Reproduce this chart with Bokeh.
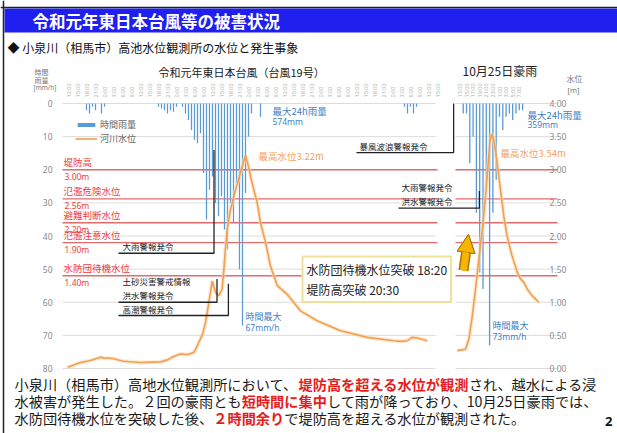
from bokeh.plotting import figure
from bokeh.models import (Range1d, LinearAxis, FixedTicker, Label, Legend, LegendItem,
                          Arrow, NormalHead, PrintfTickFormatter, BoxAnnotation, Span)
from bokeh.embed import file_html
from bokeh.resources import INLINE

JP = "Noto Sans CJK JP"

# ---------------- data ----------------
# chart 1: 令和元年東日本台風 (hours from start of chart)
rain1_hour = [8, 9, 10, 11, 13, 14,
              32, 33, 34, 35, 36, 37, 38,
              40, 41, 42, 43, 44, 45, 46, 47, 48, 49, 50, 51,
              52, 53, 54, 55, 56, 57, 58, 59, 60, 61, 62, 63,
              66, 114, 115, 116, 117, 118]
rain1_mm = [2, 3, 1, 2, 3, 1,
            1, 1.5, 2, 3, 2, 2.5, 1,
            1, 3, 5, 8, 11, 12, 9, 21, 35, 26, 22, 30,
            34, 28, 38, 44, 30, 36, 24, 50, 67, 27, 10, 3,
            4, 1, 3, 1, 3, 1]
level1_hour = [1.7, 6.0, 9.3, 12.7, 13.7, 16.7, 20.3, 26.0, 32.7, 35.0, 37.0, 39.3,
               41.7, 43.7, 44.5, 45.5, 46.7, 47.7, 48.8, 49.9, 51.0, 52.1, 53.2, 53.8,
               54.3, 54.9, 56.0, 57.7, 59.3, 61.0, 62.1, 63.2, 64.9, 66.0, 67.7, 69.3,
               71.6, 74.9, 79.3, 84.9, 92.7, 101.6, 110.4, 112.7, 114.9, 116.6, 118.2, 121.6]
level1_m = [0.02, 0.09, 0.12, 0.17, 0.16, 0.15, 0.11, 0.09, 0.10, 0.13, 0.18, 0.22,
            0.21, 0.24, 0.30, 0.40, 0.52, 0.70, 1.00, 1.32, 1.15, 1.10, 1.20, 1.50,
            1.80, 2.10, 2.40, 2.70, 2.95, 3.22, 3.03, 2.80, 2.50, 2.20, 1.90, 1.55,
            1.25, 1.12, 0.87, 0.72, 0.57, 0.47, 0.42, 0.41, 0.42, 0.47, 0.46, 0.42]

# chart 2: 10月25日豪雨 (hours from start of rain)
rain2_hour = list(range(19))
rain2_mm = [3, 3, 18, 10, 33, 51, 56, 25, 73, 33, 23, 4, 8, 4, 3, 5, 3, 2, 2]
level2_hour = [-1.8, 0.7, 1.7, 2.7, 3.7, 4.7, 5.8, 6.6, 7.4, 8.1, 8.6, 9.3, 10.3,
               11.3, 12.3, 13.3, 14.8, 16.4, 17.4, 18.4, 19.4, 20.9, 22.9]
level2_m = [0.27, 0.29, 0.44, 0.77, 1.18, 1.63, 2.10, 2.50, 2.98, 3.43, 3.54, 3.45, 3.10,
            2.70, 2.30, 2.00, 1.70, 1.45, 1.35, 1.30, 1.20, 1.10, 1.00]

thresh_name = ["堤防高", "氾濫危険水位", "避難判断水位", "氾濫注意水位", "水防団待機水位"]
thresh_m = [3.00, 2.56, 2.20, 1.90, 1.40]
thresh_lbl = ["3.00m", "2.56m", "2.20m", "1.90m", "1.40m"]

rain_ticks = [0, 10, 20, 30, 40, 50, 60, 70, 80]
level_ticks = [0.0, 0.5, 1.0, 1.5, 2.0, 2.5, 3.0, 3.5, 4.0]
RAIN_PER_M = 20.0          # 80 mm/h on the left axis spans the 4 m of the right axis

time1_ticks = list(range(2, 126, 3))      # chart-1 hours
time1_clock0 = 10
time2_ticks = list(range(-1, 19, 2))      # chart-2 hours
time2_clock0 = 14

# events (chart 1, hours): name, time, underline level, top of marker
ev1_name = ["大雨警報発令", "土砂災害警戒情報\n洪水警報発令", "高潮警報発令"]
ev1_hour = [50.5, 51.5, 55.3]
ev1_level = [1.74, 1.00, 0.80]
ev1_top = [3.30, 1.35, 1.28]
# events (chart 2, hours)
ev2_name = ["暴風波浪警報発令", "大雨警報発令\n洪水警報発令"]
ev2_hour = [-2.9, 4.9]
ev2_level = [3.26, 2.42]
ev2_top = [4.0, 2.68]

# ---------------- layout helpers (page px -> data) ----------------
W, H = 617, 433
PX0, PX1, PY0, PY1 = 55.0, 546.0, 103.0, 368.0   # plot area in page px
X1_ORG, X1_STEP = 62.0, 3.0
X2_ORG, X2_STEP = 462.7, 3.3
M_PER_PX = 4.0 / (PY1 - PY0)
MM_PER_PX = 80.0 / (PY1 - PY0)


def hx(px):
    return (px - X1_ORG) / X1_STEP


def ux(px):
    return (px - X2_ORG) / X2_STEP


def my(py):
    return (PY1 - py) * M_PER_PX


def rn(py):
    return (py - PY0) * MM_PER_PX


BLUE = "#5b9bd5"
ORANGE = "#f0a050"
RED_LINE = "#e46b6b"
RED_TXT = "#f03c3c"
GRID = "#dcdcdc"
ANN_BLUE = "#3f7fc4"

p = figure(width=W, height=H, output_backend="svg", toolbar_location=None,
           x_range=Range1d(hx(0), hx(W)), y_range=Range1d(my(H), my(0)),
           x_axis_location=None, y_axis_location=None,
           min_border_left=0, min_border_right=0, min_border_top=0, min_border_bottom=0)
p.extra_x_ranges = {"x2": Range1d(ux(0), ux(W))}
p.extra_y_ranges = {"rain": Range1d(rn(H), rn(0))}
p.grid.visible = False
p.outline_line_color = None
p.background_fill_color = "white"
p.border_fill_color = "white"


def style_axis(ax, size="8.5px"):
    ax.axis_line_color = None
    ax.major_tick_line_color = None
    ax.minor_tick_line_color = None
    ax.major_tick_out = 0
    ax.major_tick_in = 0
    ax.minor_tick_out = 0
    ax.minor_tick_in = 0
    ax.major_label_text_font_size = size
    ax.major_label_text_color = "#8a8a8a"
    ax.major_label_text_font = "Noto Sans"
    ax.major_label_standoff = 3


# left axis: rainfall (0 at top, 80 at bottom) placed on the level scale
rain_pos = [4.0 - r / RAIN_PER_M for r in rain_ticks]
lax = LinearAxis(ticker=FixedTicker(ticks=rain_pos),
                 major_label_overrides={pos: str(r) for pos, r in zip(rain_pos, rain_ticks)},
                 fixed_location=hx(PX0))
style_axis(lax)
p.add_layout(lax, "left")
rax = LinearAxis(ticker=FixedTicker(ticks=level_ticks),
                 formatter=PrintfTickFormatter(format="%.2f"), fixed_location=hx(PX1))
style_axis(rax)
p.add_layout(rax, "right")

tick_pos, tick_lbl = [], {}
for t in time1_ticks:
    pos = round(float(t), 2)
    tick_pos.append(pos)
    tick_lbl[pos] = f"{(time1_clock0 + t) % 24}:00"
for t in time2_ticks:
    pos = round(hx(X2_ORG + X2_STEP * t), 2)
    tick_pos.append(pos)
    tick_lbl[pos] = f"{(time2_clock0 + t) % 24}:00"
tax = LinearAxis(ticker=FixedTicker(ticks=tick_pos), major_label_overrides=tick_lbl,
                 fixed_location=my(PY0))
style_axis(tax, "5.5px")
tax.major_label_text_color = "#b0b0b0"
tax.major_label_orientation = "vertical"
tax.major_label_standoff = 6
p.add_layout(tax, "above")

# slide border
p.add_layout(Span(location=hx(3), dimension="height", line_color="#222222", line_width=1.5))
p.add_layout(Span(location=my(7), dimension="width", line_color="#222222", line_width=1.5))

# grid lines and threshold lines
p.segment(x0=[hx(62)] * len(level_ticks), x1=[hx(435)] * len(level_ticks),
          y0=level_ticks, y1=level_ticks, line_color=GRID, line_width=1)
p.segment(x0=[ux(455)] * len(level_ticks), x1=[ux(557)] * len(level_ticks),
          y0=level_ticks, y1=level_ticks, line_color=GRID, line_width=1, x_range_name="x2")
p.segment(x0=[hx(62)] * len(thresh_m), x1=[hx(437)] * len(thresh_m),
          y0=thresh_m, y1=thresh_m, line_color=RED_LINE, line_width=1.3)
p.segment(x0=[ux(455)] * len(thresh_m), x1=[ux(557)] * len(thresh_m),
          y0=thresh_m, y1=thresh_m, line_color=RED_LINE, line_width=1.3, x_range_name="x2")

# rainfall bars
bars1 = p.vbar(x=rain1_hour, top=0, bottom=rain1_mm, width=0.42, y_range_name="rain",
               fill_color=BLUE, line_color=None)
p.vbar(x=rain2_hour, top=0, bottom=rain2_mm, width=0.4, y_range_name="rain",
       x_range_name="x2", fill_color=BLUE, line_color=None)

# water level
p.line(level1_hour, level1_m, line_width=4, line_color="#fbd9b5", line_alpha=0.6)
lvl1 = p.line(level1_hour, level1_m, line_width=1.6, line_color=ORANGE)
p.line(level2_hour, level2_m, line_width=4, line_color="#fbd9b5", line_alpha=0.6, x_range_name="x2")
p.line(level2_hour, level2_m, line_width=1.6, line_color=ORANGE, x_range_name="x2")

# event markers
xs, ys = [], []
for t, lv, tp in zip(ev1_hour, ev1_level, ev1_top):
    xs.append([hx(118), t, t]); ys.append([lv, lv, tp])
p.multi_line(xs, ys, line_color="#222222", line_width=1.3)
xs2, ys2 = [], []
starts2 = [ux(356), ux(398)]
for s, t, lv, tp in zip(starts2, ev2_hour, ev2_level, ev2_top):
    xs2.append([s, t, t]); ys2.append([lv, lv, tp])
p.multi_line(xs2, ys2, line_color="#222222", line_width=1.3, x_range_name="x2")

for name, lv in zip(ev1_name, ev1_level):
    p.add_layout(Label(x=hx(122), y=lv, text=name, text_baseline="bottom", y_offset=1,
                       text_font=JP, text_font_size="8.5px", text_color="#222222"))
for name, lv, s in zip(ev2_name, ev2_level, [ux(359), ux(401)]):
    p.add_layout(Label(x=s, y=lv, text=name, text_baseline="bottom", y_offset=1,
                       x_range_name="x2", text_font=JP, text_font_size="8.5px",
                       text_color="#222222"))

# legend (location is relative to the plot frame = whole canvas)
legend = Legend(items=[LegendItem(label="時間雨量", renderers=[bars1]),
                       LegendItem(label="河川水位", renderers=[lvl1])],
                location=(75, H - 145), orientation="vertical",
                label_text_font=JP, label_text_font_size="9px", label_text_color="#666666",
                label_height=8, glyph_height=5, glyph_width=22, label_standoff=3,
                spacing=1, padding=0, margin=0, background_fill_alpha=0,
                border_line_color=None)
p.add_layout(legend)

# threshold labels
for name, m, lbl in zip(thresh_name, thresh_m, thresh_lbl):
    p.add_layout(Label(x=hx(63), y=m, text=name, text_baseline="bottom", y_offset=1,
                       text_font=JP, text_font_size="9.5px", text_color=RED_TXT))
    p.add_layout(Label(x=hx(64), y=m, text=lbl, text_baseline="top", y_offset=-1,
                       text_font="Noto Sans", text_font_size="8.5px", text_color=RED_TXT))


def lab(px, py, text, size, color="#222222", font=JP, bold=False, align="left",
        baseline="middle", **kw):
    p.add_layout(Label(x=hx(px), y=my(py), text=text, text_font=font,
                       text_font_size=size, text_color=color, text_align=align,
                       text_baseline=baseline,
                       text_font_style="bold" if bold else "normal", **kw))


# title bar, subtitle
p.add_layout(BoxAnnotation(left=hx(4), right=hx(W + 2), top=my(8), bottom=my(32),
                           fill_color="#1f1ff0", fill_alpha=1, line_color=None))
lab(32, 20, "令和元年東日本台風等の被害状況", "16.5px", color="white", bold=True)
lab(7, 47, "◆ 小泉川（相馬市）高池水位観測所の水位と発生事象", "12px", color="#111111")

# headers & axis titles
lab(158, 71, "令和元年東日本台風（台風19号）", "11px")
lab(462, 70, "10月25日豪雨", "12px")
lab(34, 71, "時間", "7px", color="#777777")
lab(34, 79, "雨量", "7px", color="#777777")
lab(33, 87, "[mm/h]", "6.5px", color="#777777", font="Noto Sans")
lab(566, 78, "水位", "8px", color="#777777")
lab(567, 89, "[m]", "7.5px", color="#777777", font="Noto Sans")

# annotations
lab(272, 110, "最大24h雨量", "9.5px", color=ANN_BLUE)
lab(272, 121, "574mm", "8.5px", color=ANN_BLUE, font="Noto Sans")
lab(258, 155, "最高水位3.22m", "9.5px", color="#f3a35e")
lab(245, 316, "時間最大", "9px", color=ANN_BLUE)
lab(245, 327, "67mm/h", "8.5px", color=ANN_BLUE, font="Noto Sans")
lab(527, 114, "最大24h雨量", "9.5px", color=ANN_BLUE)
lab(527, 124, "359mm", "8.5px", color=ANN_BLUE, font="Noto Sans")
lab(500, 152, "最高水位3.54m", "9.5px", color="#f3a35e")
lab(492, 325, "時間最大", "9px", color=ANN_BLUE)
lab(492, 336, "73mm/h", "8.5px", color=ANN_BLUE, font="Noto Sans")

lab(302, 256, "水防団待機水位突破 18:20\n堤防高突破 20:30", "12px", color="#222222",
    baseline="top", background_fill_color="white", border_line_color="#efe19a",
    border_line_width=2, padding=4)

# arrow
for lw, col in [(10, "#a87300"), (7, "#f7b500")]:
    p.add_layout(Arrow(x_start=ux(463), y_start=my(270), x_end=ux(468), y_end=my(234),
                       x_range_name="x2", line_width=lw, line_color=col,
                       end=NormalHead(size=18, fill_color="#f7b500", line_color="#a87300",
                                      line_width=1)))

# bottom paragraph
FS = 14.2
para = [
    (383, [("小泉川（相馬市）高地水位観測所において、", False),
           ("堤防高を超える水位が観測", True), ("され、越水による浸", False)]),
    (400, [("水被害が発生した。２回の豪雨とも", False), ("短時間に集中", True),
           ("して雨が降っており、10月25日豪雨では、", False)]),
    (417, [("水防団待機水位を突破した後、", False), ("２時間余り", True),
           ("で堤防高を超える水位が観測された。", False)]),
]
for py, segs in para:
    px = 14.0
    for text, red in segs:
        lab(px, py, text, f"{FS}px", color="#e81c1c" if red else "#1a1a1a", bold=red)
        px += len(text) * FS
lab(612, 421, "2", "13px", color="#111111", bold=True, align="right", font="Noto Sans")

open("out.html", "w").write(file_html(p, INLINE))
